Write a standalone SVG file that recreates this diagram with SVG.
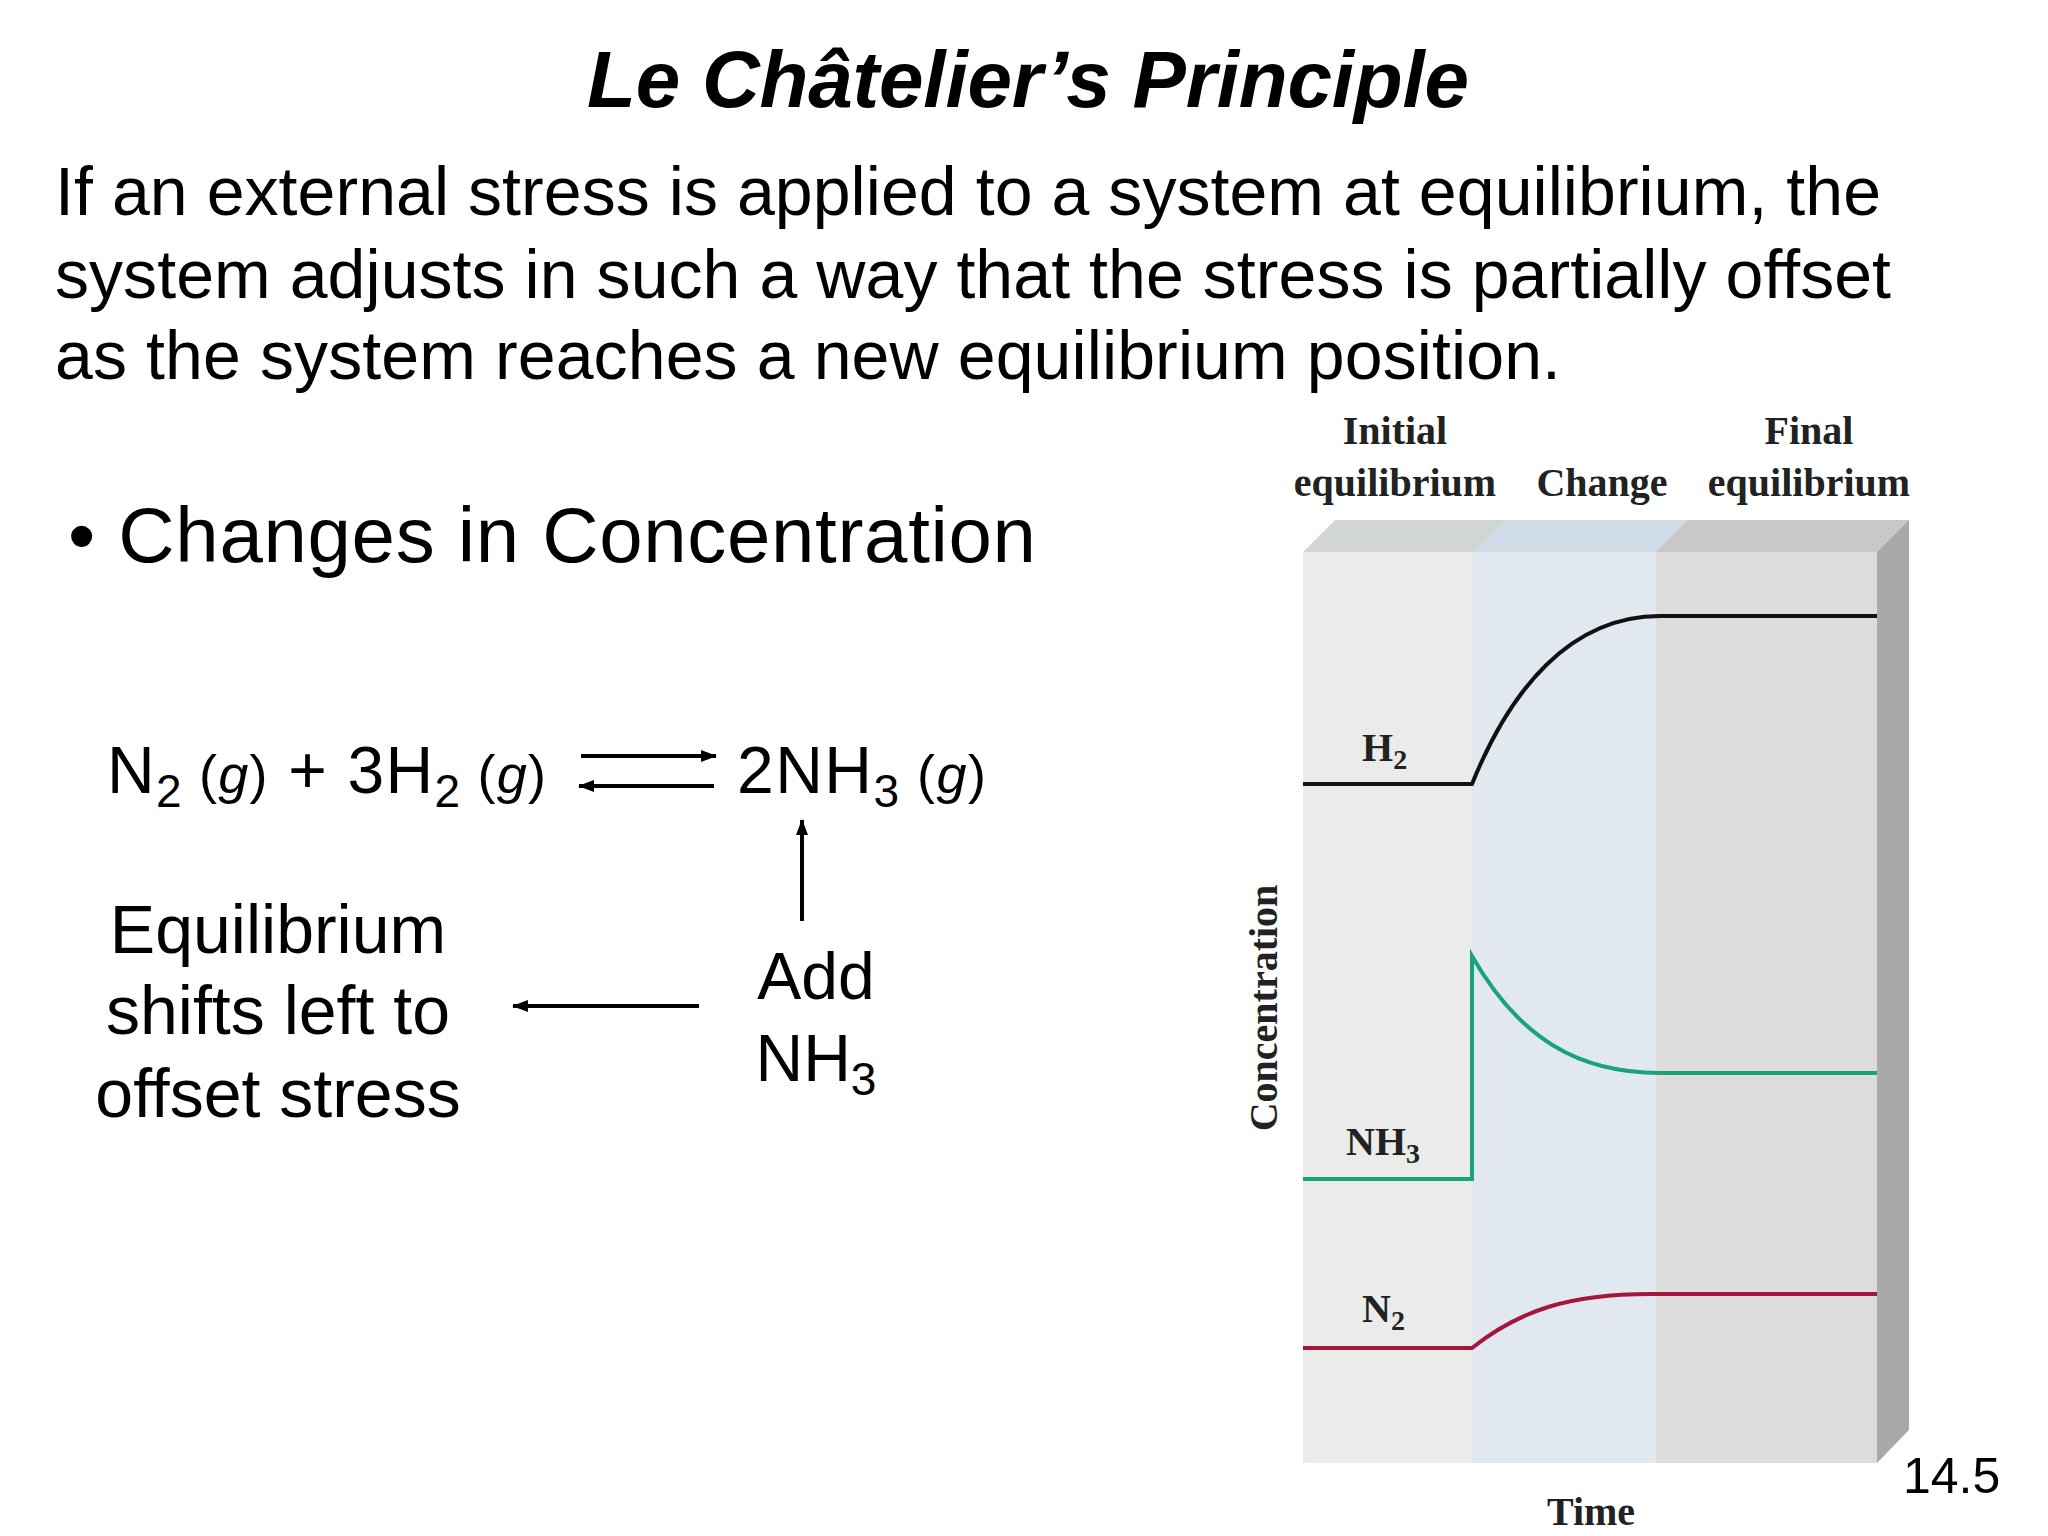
<svg xmlns="http://www.w3.org/2000/svg" width="2048" height="1536" viewBox="0 0 2048 1536">
<defs>
<marker id="ah2" markerWidth="16" markerHeight="12" refX="15" refY="6" orient="auto" markerUnits="userSpaceOnUse"><path d="M0,0 L16,6 L0,12 z" fill="#000"/></marker>
<style>
.s{font-family:"Liberation Sans",Arial,sans-serif;fill:#000}
.r{font-family:"Liberation Serif","Times New Roman",serif;fill:#222}
.ln{fill:none;stroke-width:4}
</style>
</defs>
<rect width="2048" height="1536" fill="#fff"/>
<g id="title"><text class="s" x="1028" y="107" font-size="80" font-weight="bold" font-style="italic" text-anchor="middle" textLength="882">Le Châtelier’s Principle</text></g>
<g id="para" class="s" font-size="68">
<text x="55" y="215" textLength="1826" class="s">If an external stress is applied to a system at equilibrium, the</text>
<text x="55" y="298" textLength="1836" class="s">system adjusts in such a way that the stress is partially offset</text>
<text x="55" y="379" textLength="1506" class="s">as the system reaches a new equilibrium position.</text>
</g>
<g id="bullet"><text class="s" x="68" y="562" font-size="78" textLength="968">• Changes in Concentration</text></g>
<g id="equation" class="s" font-size="66">
<text class="s" x="107" y="793" textLength="439">N<tspan font-size="46" dy="14">2</tspan><tspan dy="-14" font-size="54"> (<tspan font-style="italic">g</tspan>)</tspan> + 3H<tspan font-size="46" dy="14">2</tspan><tspan dy="-14" font-size="54"> (<tspan font-style="italic">g</tspan>)</tspan></text>
<text class="s" x="737" y="793" textLength="249">2NH<tspan font-size="46" dy="14">3</tspan><tspan dy="-14" font-size="54"> (<tspan font-style="italic">g</tspan>)</tspan></text>
</g>
<g id="add" class="s" font-size="66" text-anchor="middle">
<text class="s" x="816" y="999">Add</text>
<text class="s" x="816" y="1081">NH<tspan font-size="46" dy="14">3</tspan></text>
</g>
<g id="shift" class="s" font-size="68" text-anchor="middle">
<text class="s" x="278" y="953">Equilibrium</text>
<text class="s" x="278" y="1034">shifts left to</text>
<text class="s" x="278" y="1117">offset stress</text>
</g>
<g id="connectors" stroke="#000" stroke-width="4" fill="none">
<line x1="581" y1="756" x2="716" y2="756" marker-end="url(#ah2)"/>
<line x1="714" y1="786" x2="579" y2="786" marker-end="url(#ah2)"/>
<line x1="802" y1="921" x2="802" y2="820" marker-end="url(#ah2)"/>
<line x1="699" y1="1006" x2="513" y2="1006" marker-end="url(#ah2)"/>
</g>
<g id="chart">
<polygon points="1303,552 1335,520 1909,520 1877,552" fill="#d2d6d2"/>
<polygon points="1472,552 1504,520 1688,520 1656,552" fill="#cfdbe6"/>
<polygon points="1656,552 1688,520 1909,520 1877,552" fill="#c8c8c8"/>
<rect x="1303" y="552" width="169" height="911" fill="#e9ece9"/>
<rect x="1472" y="552" width="184" height="911" fill="#e1e8ef"/>
<rect x="1656" y="552" width="221" height="911" fill="#dcdcdc"/>
<polygon points="1877,552 1909,520 1909,1430 1877,1463" fill="#a9a9a9"/>
<path class="ln" stroke="#111" d="M1303,784 L1472,784 C1510,690 1570,616 1660,616 L1877,616"/>
<path class="ln" stroke="#1aa37a" d="M1303,1179 L1472,1179 L1472,956 C1520,1040 1580,1073 1660,1073 L1877,1073"/>
<path class="ln" stroke="#a3173f" d="M1303,1348 L1472,1348 C1520,1310 1570,1294 1650,1294 L1877,1294"/>
<g class="r" font-size="40" font-weight="bold" text-anchor="middle">
<text class="r" x="1395" y="444">Initial</text>
<text class="r" x="1395" y="496">equilibrium</text>
<text class="r" x="1602" y="496">Change</text>
<text class="r" x="1809" y="444">Final</text>
<text class="r" x="1809" y="496">equilibrium</text>
<text class="r" x="1591" y="1525">Time</text>
<text class="r" transform="translate(1277,1008) rotate(-90)" x="0" y="0">Concentration</text>
</g>
<g class="r" font-size="40" font-weight="bold">
<text class="r" x="1362" y="761">H<tspan font-size="28" dy="8">2</tspan></text>
<text class="r" x="1346" y="1155">NH<tspan font-size="28" dy="8">3</tspan></text>
<text class="r" x="1362" y="1322">N<tspan font-size="28" dy="8">2</tspan></text>
</g>
</g>
<g id="page"><text class="s" x="1903" y="1493" font-size="50">14.5</text></g>
</svg>
